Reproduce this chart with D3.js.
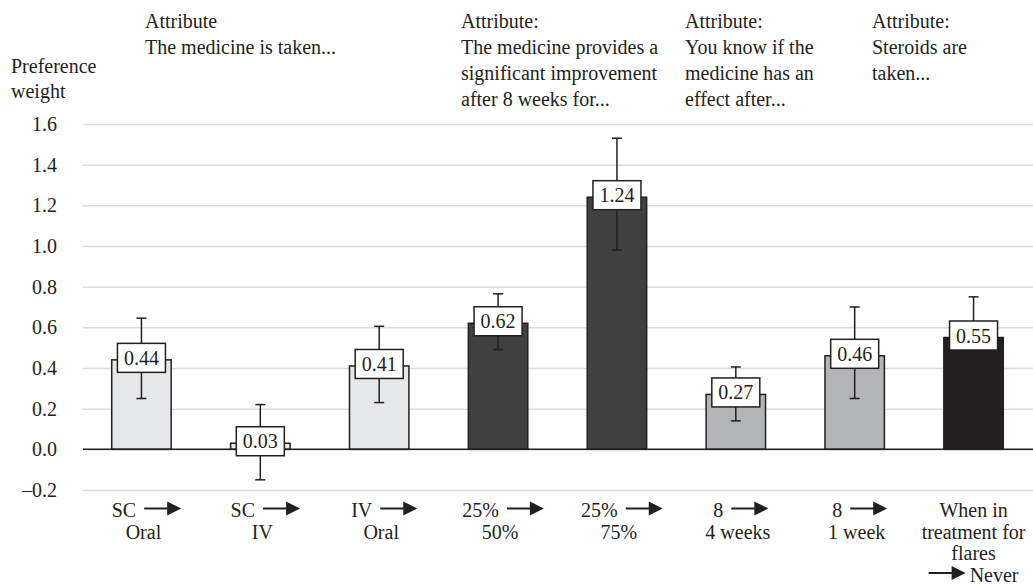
<!DOCTYPE html>
<html>
<head>
<meta charset="utf-8">
<script src="https://cdn.jsdelivr.net/npm/d3@7"></script>
<style>
body { margin: 0; background: #fff; }
text { font-family: "Liberation Serif", "Times New Roman", serif; fill: #231f20; }
</style>
</head>
<body>
<svg id="chart" width="1033" height="587" font-family="Liberation Serif, Times New Roman, serif"></svg>
<script>
"use strict";
// data
var categories = ["SC-Oral", "SC-IV", "IV-Oral", "25-50", "25-75", "8-4wk", "8-1wk", "flares-never"];
var values = [0.44, 0.03, 0.41, 0.62, 1.24, 0.27, 0.46, 0.55];
var ciLow = [0.25, -0.15, 0.23, 0.49, 0.98, 0.14, 0.25, 0.35];
var ciHigh = [0.645, 0.22, 0.605, 0.765, 1.53, 0.405, 0.70, 0.75];
var groups = ["route", "route", "route", "improve", "improve", "effect", "effect", "steroid"];
var fromLabels = [["SC"], ["SC"], ["IV"], ["25%"], ["25%"], ["8"], ["8"], ["When in", "treatment for", "flares"]];
var toLabels = ["Oral", "IV", "Oral", "50%", "75%", "4 weeks", "1 week", "Never"];
var yTicks = [-0.2, 0.0, 0.2, 0.4, 0.6, 0.8, 1.0, 1.2, 1.4, 1.6];
var headerTexts = [
	["Attribute", "The medicine is taken..."],
	["Attribute:", "The medicine provides a", "significant improvement", "after 8 weeks for..."],
	["Attribute:", "You know if the", "medicine has an", "effect after..."],
	["Attribute:", "Steroids are", "taken..."]
];
var groupColors = {route: "#e6e7e8", improve: "#404040", effect: "#b3b4b5", steroid: "#231f20"};

var svg = d3.select("#chart");
var ink = "#231f20";
var fs = 20;

var x = d3.scaleBand().domain(categories).range([82, 1033]).paddingInner(0.5).paddingOuter(0.25);
var y = d3.scaleLinear().domain([-0.2, 1.6]).range([490, 124]);

//gridlines + tick labels
var yAxis = d3.axisLeft(y).tickValues(yTicks).tickSize(-(1033 - 83)).tickPadding(26)
	.tickFormat(function(d){ return d3.format(".1f")(d).replace("−", "–").replace("-", "–"); });
var gAxis = svg.append("g").attr("transform", "translate(83,0)").call(yAxis);
gAxis.attr("font-family", null);
gAxis.select(".domain").remove();
gAxis.selectAll(".tick line").attr("stroke", "#dcdcdc").attr("stroke-width", 1.5);
gAxis.selectAll(".tick text").attr("font-size", fs).attr("fill", ink);

//y title
svg.append("text").attr("x", 11).attr("y", 73).attr("font-size", fs).text("Preference");
svg.append("text").attr("x", 11).attr("y", 98).attr("font-size", fs).text("weight");

//attribute headers
var headerX = [145, 461, 685, 872];
headerTexts.forEach(function(lines, i){
	var t = svg.append("text").attr("x", headerX[i]).attr("y", 28).attr("font-size", fs);
	lines.forEach(function(l, j){
		t.append("tspan").attr("x", headerX[i]).attr("dy", j == 0 ? 0 : 26).text(l);
	});
});

//bars
svg.selectAll(".bar").data(values).enter().append("rect")
	.attr("class", "bar")
	.attr("x", function(d, i){ return x(categories[i]); })
	.attr("width", x.bandwidth())
	.attr("y", function(d){ return y(Math.max(0, d)); })
	.attr("height", function(d){ return Math.abs(y(d) - y(0)); })
	.attr("fill", function(d, i){ return groupColors[groups[i]]; })
	.attr("stroke", ink)
	.attr("stroke-width", 1.5);

//zero line
svg.append("line").attr("x1", 83).attr("x2", 1033).attr("y1", y(0)).attr("y2", y(0))
	.attr("stroke", ink).attr("stroke-width", 1.5);

//error bars
var cx = function(i){ return x(categories[i]) + x.bandwidth() / 2; };
var eb = svg.selectAll(".err").data(values).enter().append("g").attr("class", "err")
	.attr("stroke", ink).attr("stroke-width", 1.5);
eb.append("line").attr("x1", function(d, i){ return cx(i); }).attr("x2", function(d, i){ return cx(i); })
	.attr("y1", function(d, i){ return y(ciLow[i]); }).attr("y2", function(d, i){ return y(ciHigh[i]); });
eb.append("line").attr("x1", function(d, i){ return cx(i) - 5; }).attr("x2", function(d, i){ return cx(i) + 5; })
	.attr("y1", function(d, i){ return y(ciLow[i]); }).attr("y2", function(d, i){ return y(ciLow[i]); });
eb.append("line").attr("x1", function(d, i){ return cx(i) - 5; }).attr("x2", function(d, i){ return cx(i) + 5; })
	.attr("y1", function(d, i){ return y(ciHigh[i]); }).attr("y2", function(d, i){ return y(ciHigh[i]); });

//value boxes
var lb = svg.selectAll(".lbl").data(values).enter().append("g").attr("class", "lbl");
lb.append("rect")
	.attr("x", function(d, i){ return cx(i) - 24; })
	.attr("y", function(d){ return y(d) - 16.5; })
	.attr("width", 48).attr("height", 29)
	.attr("fill", "#fff").attr("stroke", ink).attr("stroke-width", 1.5);
lb.append("text")
	.attr("x", function(d, i){ return cx(i); })
	.attr("y", function(d){ return y(d) + 5; })
	.attr("text-anchor", "middle").attr("font-size", fs)
	.text(function(d){ return d.toFixed(2); });

//arrow glyph
function drawArrow(g, x0, yMid){
	g.append("line").attr("x1", x0).attr("x2", x0 + 24).attr("y1", yMid).attr("y2", yMid)
		.attr("stroke", ink).attr("stroke-width", 2);
	g.append("path").attr("d", "M" + (x0 + 23) + "," + (yMid - 7) + "L" + (x0 + 37) + "," + yMid + "L" + (x0 + 23) + "," + (yMid + 7) + "Z")
		.attr("fill", ink);
}
var arrowW = 37, gap = 8, lineH = 21.5, firstBase = 517;

//x labels
categories.forEach(function(c, i){
	var g = svg.append("g");
	var center = cx(i);
	var from = fromLabels[i];
	if (from.length == 1) {
		var t = g.append("text").attr("y", firstBase).attr("font-size", fs).text(from[0]);
		var w = t.node().getComputedTextLength();
		var start = center + 5 - (w + gap + arrowW) / 2;
		t.attr("x", start);
		drawArrow(g, start + w + gap, firstBase - 8.5);
		g.append("text").attr("x", center + 2).attr("y", firstBase + lineH)
			.attr("text-anchor", "middle").attr("font-size", fs).text(toLabels[i]);
	} else {
		from.forEach(function(l, j){
			g.append("text").attr("x", center).attr("y", firstBase + j * lineH)
				.attr("text-anchor", "middle").attr("font-size", fs).text(l);
		});
		var yy = firstBase + from.length * lineH;
		var t2 = g.append("text").attr("y", yy).attr("font-size", fs).text(toLabels[i]);
		var w2 = t2.node().getComputedTextLength();
		var s2 = center - (w2 + 4 + arrowW) / 2;
		drawArrow(g, s2, yy - 8.5);
		t2.attr("x", s2 + arrowW + 4);
	}
});
</script>
</body>
</html>
